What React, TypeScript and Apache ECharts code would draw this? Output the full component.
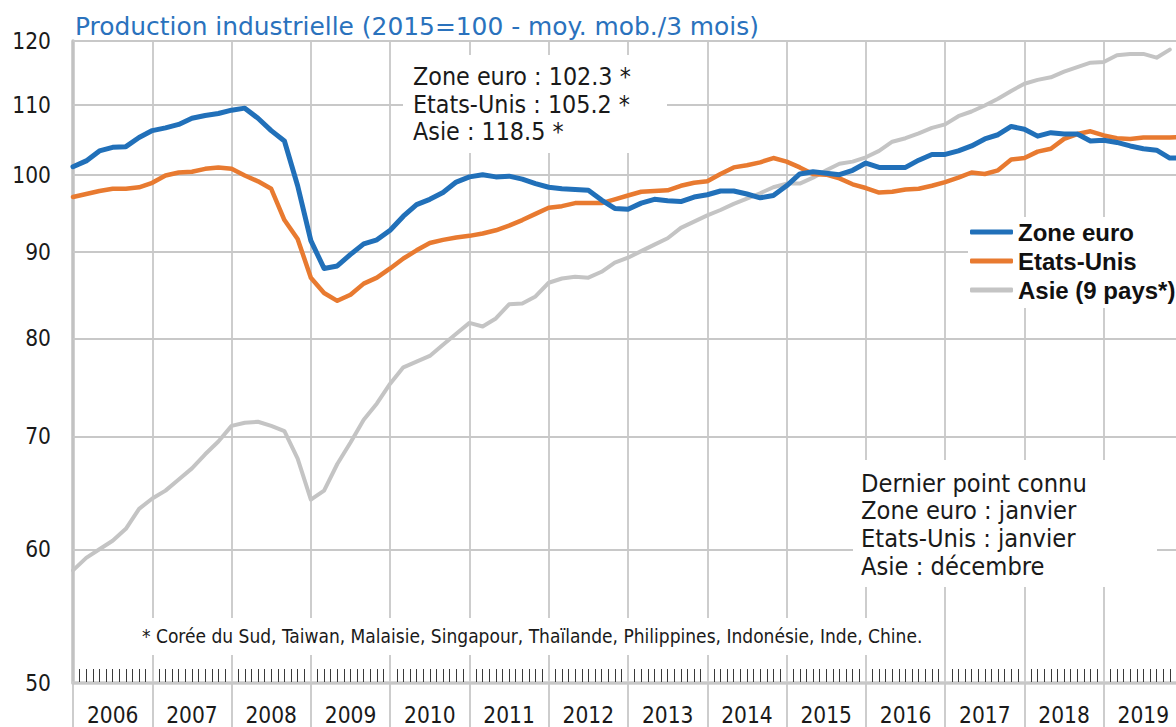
import React, { useEffect, useRef } from "react";
import * as echarts from "echarts";

// Bimonthly readings (2006-01 .. 2020-01), index 2015 = 100, 3-month moving average
const DATES = [
  "2006-01", "2006-03", "2006-05", "2006-07", "2006-09", "2006-11",
  "2007-01", "2007-03", "2007-05", "2007-07", "2007-09", "2007-11",
  "2008-01", "2008-03", "2008-05", "2008-07", "2008-09", "2008-11",
  "2009-01", "2009-03", "2009-05", "2009-07", "2009-09", "2009-11",
  "2010-01", "2010-03", "2010-05", "2010-07", "2010-09", "2010-11",
  "2011-01", "2011-03", "2011-05", "2011-07", "2011-09", "2011-11",
  "2012-01", "2012-03", "2012-05", "2012-07", "2012-09", "2012-11",
  "2013-01", "2013-03", "2013-05", "2013-07", "2013-09", "2013-11",
  "2014-01", "2014-03", "2014-05", "2014-07", "2014-09", "2014-11",
  "2015-01", "2015-03", "2015-05", "2015-07", "2015-09", "2015-11",
  "2016-01", "2016-03", "2016-05", "2016-07", "2016-09", "2016-11",
  "2017-01", "2017-03", "2017-05", "2017-07", "2017-09", "2017-11",
  "2018-01", "2018-03", "2018-05", "2018-07", "2018-09", "2018-11",
  "2019-01", "2019-03", "2019-05", "2019-07", "2019-09", "2019-11",
  "2020-01",
];

const ZONE_EURO = [
  101.1, 101.9, 103.3, 103.8, 103.9, 105.2, 106.2, 106.6, 107.1, 108.0,
  108.4, 108.7, 109.2, 109.5, 108.0, 106.2, 104.7, 98.5, 91.4, 88.0,
  88.3, 89.7, 91.0, 91.5, 92.7, 94.5, 96.0, 96.7, 97.6, 99.0,
  99.7, 100.0, 99.7, 99.8, 99.4, 98.8, 98.3, 98.1, 98.0, 97.9,
  96.6, 95.5, 95.4, 96.2, 96.7, 96.5, 96.4, 97.0, 97.3, 97.8,
  97.8, 97.4, 96.9, 97.2, 98.5, 100.1, 100.4, 100.2, 100.0, 100.6,
  101.6, 101.0, 101.0, 101.0, 102.0, 102.8, 102.8, 103.3, 104.0, 105.0,
  105.6, 106.8, 106.4, 105.4, 105.9, 105.7, 105.7, 104.7, 104.8, 104.5,
  104.0, 103.6, 103.4, 102.3, 102.3,
];

const ETATS_UNIS = [
  97.0, 97.4, 97.8, 98.1, 98.1, 98.3, 98.9, 99.9, 100.3, 100.4,
  100.8, 101.0, 100.8, 99.9, 99.1, 98.1, 94.0, 91.6, 86.9, 85.1,
  84.2, 84.9, 86.2, 86.9, 88.0, 89.2, 90.2, 91.1, 91.5, 91.8,
  92.0, 92.3, 92.7, 93.3, 94.0, 94.8, 95.6, 95.8, 96.2, 96.2,
  96.2, 96.7, 97.2, 97.7, 97.8, 97.9, 98.5, 98.9, 99.1, 100.1,
  101.0, 101.3, 101.7, 102.3, 101.8, 101.0, 100.1, 100.0, 99.5, 98.7,
  98.2, 97.6, 97.7, 98.0, 98.1, 98.5, 99.0, 99.6, 100.3, 100.1,
  100.6, 102.1, 102.3, 103.2, 103.6, 105.0, 105.7, 106.1, 105.5, 105.1,
  105.0, 105.2, 105.2, 105.2, 105.3,
];

const ASIE = [
  58.3, 59.3, 60.0, 60.7, 61.7, 63.4, 64.3, 65.0, 66.0, 67.0,
  68.3, 69.5, 71.0, 71.3, 71.4, 71.0, 70.5, 67.9, 64.2, 65.0,
  67.4, 69.4, 71.6, 73.2, 75.2, 76.9, 77.5, 78.1, 79.3, 80.5,
  81.7, 81.3, 82.2, 83.8, 83.9, 84.7, 86.3, 86.8, 87.0, 86.9,
  87.6, 88.7, 89.3, 90.1, 90.9, 91.7, 93.0, 93.8, 94.6, 95.3,
  96.1, 96.8, 97.5, 98.3, 98.8, 98.8, 99.6, 100.6, 101.5, 101.8,
  102.4, 103.3, 104.6, 105.1, 105.8, 106.6, 107.1, 108.3, 109.0, 109.9,
  110.9, 112.1, 113.2, 113.8, 114.2, 115.1, 115.8, 116.5, 116.6, 117.7,
  117.9, 117.9, 117.3, 118.6,
];

const YEARS = [
  "2006", "2007", "2008", "2009", "2010", "2011", "2012",
  "2013", "2014", "2015", "2016", "2017", "2018", "2019",
];

const Y_TICKS = [50, 60, 70, 80, 90, 100, 110, 120];

const LEGEND_NAMES = ["Zone euro", "Etats-Unis", "Asie (9 pays*)"];

const LAST_VALUES = ["Zone euro : 102.3 *", "Etats-Unis : 105.2 *", "Asie : 118.5 *"];
const LAST_POINT = [
  "Dernier point connu",
  "Zone euro : janvier",
  "Etats-Unis : janvier",
  "Asie : décembre",
];
const FOOTNOTE =
  "* Corée du Sud, Taiwan, Malaisie, Singapour, Thaïlande, Philippines, Indonésie, Inde, Chine.";
const TITLE = "Production industrielle (2015=100 - moy. mob./3 mois)";

const BODY_FONT = '"DejaVu Sans Condensed", "DejaVu Sans", sans-serif';
const TITLE_FONT = '"DejaVu Sans", sans-serif';
const LEGEND_FONT = '"Liberation Sans", Arial, sans-serif';

const monthIndex = (d: string) => {
  const [y, m] = d.split("-").map(Number);
  return (y - 2006) * 12 + (m - 1);
};
const pairs = (vals: number[]) => vals.map((v, i) => [monthIndex(DATES[i]), v]);

export default function App() {
  const ref = useRef<HTMLDivElement>(null);

  useEffect(() => {
    if (!ref.current) return;
    const chart = echarts.init(ref.current, undefined, { renderer: "svg" });

    const textLine = (text: string, x: number, y: number, size: number, font: string, fill = "#1a1a1a") => ({
      type: "text",
      x,
      y,
      z: 11,
      silent: true,
      style: {
        text,
        fill,
        fontSize: size,
        fontFamily: font,
        align: "left",
        verticalAlign: "middle",
      },
    });

    const option: any = {
      animation: false,
      backgroundColor: "#ffffff",
      grid: [
        { left: 73, top: 41, width: 1110, height: 642, outerBoundsMode: "none" },
        { left: 73, top: 41, width: 1110, height: 642, outerBoundsMode: "none" },
      ],
      xAxis: [
        {
          type: "value",
          gridIndex: 0,
          min: 0,
          max: 168,
          interval: 12,
          axisLine: { show: true, onZero: false, lineStyle: { color: "#cccccc", width: 3.5 } },
          axisTick: { show: false, inside: true },
          minorTick: { show: true, splitNumber: 12, length: 14, lineStyle: { color: "#3a3a3a", width: 1 } },
          axisLabel: { show: false },
          splitLine: { show: true, lineStyle: { color: "#c8c8c8", width: 1.8 } },
          minorSplitLine: { show: false },
        },
        {
          type: "category",
          gridIndex: 1,
          data: YEARS,
          boundaryGap: true,
          position: "bottom",
          axisLine: { show: false },
          axisTick: { show: true, length: 44, lineStyle: { color: "#c8c8c8", width: 1.8 } },
          axisLabel: {
            interval: 0,
            fontSize: 22.5,
            color: "#1a1a1a",
            fontFamily: BODY_FONT,
            margin: 20,
          },
          splitLine: { show: false },
        },
      ],
      yAxis: [
        {
          type: "log",
          gridIndex: 0,
          min: 50,
          max: 120,
          axisLine: { show: true, lineStyle: { color: "#c2c2c2", width: 3.5 } },
          axisTick: { show: false },
          axisLabel: { show: false },
          splitLine: { show: false },
        },
        { type: "value", gridIndex: 1, show: false },
      ],
      legend: {
        orient: "vertical",
        left: 968,
        top: 217,
        data: LEGEND_NAMES,
        selectedMode: false,
        backgroundColor: "#ffffff",
        padding: [3, 10, 6, 2],
        icon: "roundRect",
        itemWidth: 43,
        itemHeight: 5,
        itemGap: 5,
        textStyle: {
          fontFamily: LEGEND_FONT,
          fontWeight: "bold",
          fontSize: 24,
          color: "#111111",
        },
      },
      series: [
        {
          type: "line",
          name: "_grid",
          xAxisIndex: 0,
          yAxisIndex: 0,
          data: [[0, 100]],
          symbol: "none",
          silent: true,
          lineStyle: { opacity: 0 },
          markLine: {
            silent: true,
            z: 1,
            symbol: ["none", "none"],
            animation: false,
            lineStyle: { color: "#c8c8c8", width: 1.8, type: "solid" },
            emphasis: { disabled: true },
            label: {
              position: "start",
              distance: 22,
              fontSize: 22.5,
              color: "#1a1a1a",
              fontFamily: BODY_FONT,
              formatter: (p: any) => String(p.value),
            },
            data: Y_TICKS.map((v) => ({ yAxis: v })),
          },
        },
        {
          type: "line",
          name: "Asie (9 pays*)",
          xAxisIndex: 0,
          yAxisIndex: 0,
          data: pairs(ASIE),
          symbol: "none",
          lineStyle: { color: "#c4c4c4", width: 4, cap: "round", join: "round" },
          itemStyle: { color: "#c4c4c4" },
        },
        {
          type: "line",
          name: "Etats-Unis",
          xAxisIndex: 0,
          yAxisIndex: 0,
          data: pairs(ETATS_UNIS),
          symbol: "none",
          lineStyle: { color: "#e87a30", width: 4.5, cap: "round", join: "round" },
          itemStyle: { color: "#e87a30" },
        },
        {
          type: "line",
          name: "Zone euro",
          xAxisIndex: 0,
          yAxisIndex: 0,
          data: pairs(ZONE_EURO),
          symbol: "none",
          lineStyle: { color: "#2170b9", width: 5, cap: "round", join: "round" },
          itemStyle: { color: "#2170b9" },
        },
      ],
      graphic: [
        textLine(TITLE, 75, 26, 24.9, TITLE_FONT, "#2a72bd"),
        { type: "rect", z: 10, silent: true, shape: { x: 403, y: 55, width: 264, height: 98 }, style: { fill: "#ffffff" } },
        ...LAST_VALUES.map((t, i) => textLine(t, 413, 76.5 + i * 27.5, 24.8, BODY_FONT)),
        { type: "rect", z: 10, silent: true, shape: { x: 853, y: 460, width: 304, height: 127 }, style: { fill: "#ffffff" } },
        ...LAST_POINT.map((t, i) => textLine(t, 861, 483 + i * 27.7, 25.2, BODY_FONT)),
        { type: "rect", z: 10, silent: true, shape: { x: 138, y: 618, width: 792, height: 37 }, style: { fill: "#ffffff" } },
        textLine(FOOTNOTE, 142, 636, 19, BODY_FONT),
      ],
    };

    chart.setOption(option);
    return () => chart.dispose();
  }, []);

  return (
    <div
      ref={ref}
      style={{ position: "absolute", left: 0, top: 0, width: 1176, height: 727, background: "#fff" }}
    />
  );
}
